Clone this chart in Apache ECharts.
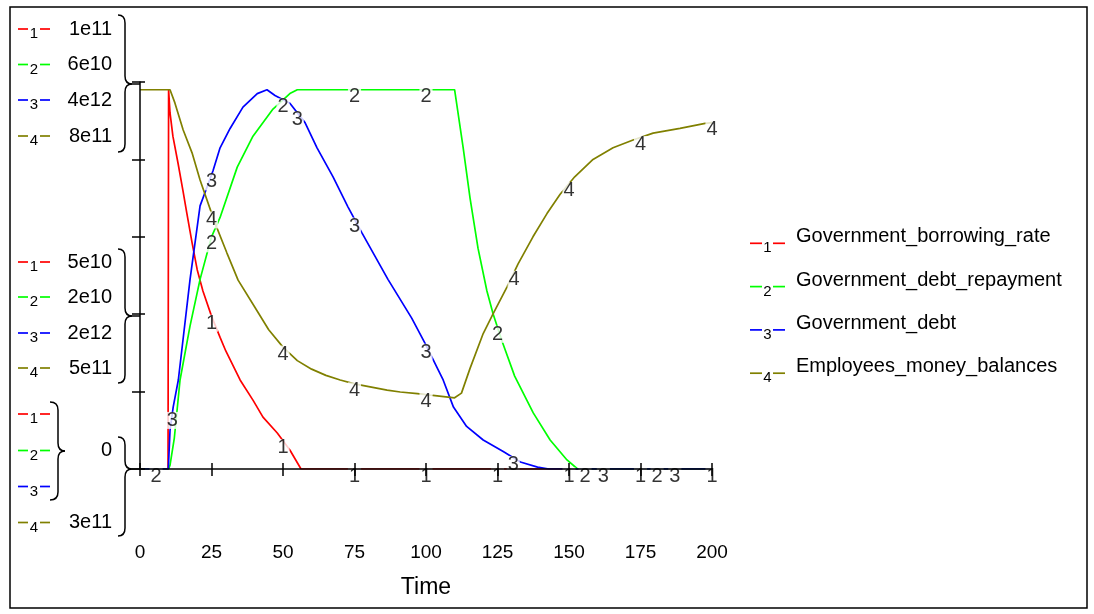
<!DOCTYPE html>
<html>
<head>
<meta charset="utf-8">
<script src="https://cdn.jsdelivr.net/npm/echarts@6/dist/echarts.min.js"></script>
<style>
  html, body { margin: 0; padding: 0; background: #fff; }
  #chart { width: 1094px; height: 614px; }
</style>
</head>
<body>
<div id="chart"></div>
<script>
// ---- series definitions ----
const seriesNames = [
  'Government_borrowing_rate',
  'Government_debt_repayment',
  'Government_debt',
  'Employees_money_balances'
];
const seriesColors = ['#ff0000', '#00ff00', '#0000ff', '#808000'];

// each variable has its own vertical scale
const scaleMin = [0, 0, 0, 3e11];
const scaleMax = [1e11, 6e10, 4e12, 8e11];
const scaleTopLabels = ['1e11', '6e10', '4e12', '8e11'];
const scaleMidLabels = ['5e10', '2e10', '2e12', '5e11'];
const scaleBottomLabels = ['0', '0', '0', '3e11'];

// [time, value]
const borrowingRate = [
  [0, 0], [9.8, 0], [10, 9.8e10], [10.5, 9.2e10], [11.5, 8.6e10], [13.3, 7.9e10],
  [15, 7.2e10], [16.4, 6.6e10], [18.2, 5.85e10], [20, 5.15e10], [22, 4.6e10],
  [25, 3.95e10], [28, 3.4e10], [30, 3.05e10], [35, 2.3e10], [39.5, 1.78e10],
  [43, 1.34e10], [48, 0.93e10], [52.4, 0.49e10], [56.3, 0], [200, 0]
];
const debtRepayment = [
  [0, 0], [10, 0], [10.5, 0.06e10], [12, 0.48e10], [14, 1.38e10], [17.5, 2.22e10],
  [21, 2.94e10], [25, 3.6e10], [28, 3.9e10], [34, 4.68e10], [39.5, 5.16e10],
  [46.5, 5.58e10], [52.4, 5.82e10], [55, 5.88e10], [110, 5.88e10], [113, 4.98e10],
  [115.4, 4.2e10], [118.2, 3.42e10], [121.3, 2.76e10], [123.5, 2.4e10],
  [126.6, 1.98e10], [131, 1.44e10], [137.5, 0.87e10], [143.4, 0.45e10],
  [149.3, 0.14e10], [153, 0], [200, 0]
];
const governmentDebt = [
  [0, 0], [9.9, 0], [10.5, 0.4e12], [11.6, 0.64e12], [13.4, 0.92e12], [17.5, 1.96e12],
  [21, 2.72e12], [25.5, 3.08e12], [28, 3.32e12], [31.5, 3.52e12], [36, 3.74e12],
  [41, 3.88e12], [44.4, 3.92e12], [47.2, 3.86e12], [52.4, 3.78e12], [57.7, 3.58e12],
  [61.9, 3.32e12], [67.5, 3.02e12], [72.7, 2.71e12], [77.6, 2.44e12], [86.7, 1.96e12],
  [95, 1.56e12], [100, 1.28e12], [104, 1.04e12], [106, 0.92e12], [109.6, 0.64e12],
  [114.2, 0.44e12], [120, 0.3e12], [127, 0.18e12], [133, 0.072e12], [139, 0.02e12],
  [143, 0], [200, 0]
];
const moneyBalances = [
  [0, 7.9e11], [10.5, 7.9e11], [12.2, 7.73e11], [15.1, 7.38e11], [18.2, 7.085e11],
  [21, 6.735e11], [26.2, 6.18e11], [30.4, 5.79e11], [34.3, 5.44e11], [40, 5.1e11],
  [45, 4.8e11], [50, 4.575e11], [55, 4.4e11], [60, 4.29e11], [65, 4.21e11],
  [70, 4.15e11], [75, 4.1e11], [80, 4.065e11], [86.4, 4.02e11], [91, 3.995e11],
  [97, 3.975e11], [102.4, 3.95e11], [110, 3.92e11], [112.4, 3.98e11], [115.4, 4.3e11],
  [120, 4.75e11], [123.4, 5.0e11], [128.3, 5.35e11], [132.2, 5.65e11], [137.4, 6.0e11],
  [142.3, 6.3e11], [146.9, 6.55e11], [152, 6.775e11], [158.4, 7.0e11], [165.4, 7.15e11],
  [172.4, 7.25e11], [179.4, 7.34e11], [188.8, 7.4e11], [197.6, 7.465e11], [200, 7.475e11]
];
const seriesData = [borrowingRate, debtRepayment, governmentDebt, moneyBalances];

// times at which each line carries its number tag
const tagTimes = [
  [25, 50, 75, 100, 125, 150, 175, 200],
  [5.6, 25, 50, 75, 100, 125, 155.6, 180.8],
  [11.3, 25, 55, 75, 100, 130.5, 162, 187],
  [25, 50, 75, 100, 130.8, 150, 175, 200]
];

const timeMin = 0, timeMax = 200, timeStep = 25;

// ---- layout ----
const FONT = '"Liberation Sans", Arial, sans-serif';
const GRID = { left: 140, right: 382, top: 82, bottom: 145 };

function valueAt(points, t) {
  for (let k = 1; k < points.length; k++) {
    const a = points[k - 1], b = points[k];
    if (t <= b[0]) {
      if (b[0] === a[0]) return b[1];
      return a[1] + (b[1] - a[1]) * (t - a[0]) / (b[0] - a[0]);
    }
  }
  return points[points.length - 1][1];
}

const chart = echarts.init(document.getElementById('chart'), null, { renderer: 'canvas' });

const yAxes = seriesData.map((_, i) => ({
  type: 'value', min: scaleMin[i], max: scaleMax[i], show: false, position: 'left'
}));
// visible vertical axis with crossing ticks
yAxes.push({
  type: 'value', min: 0, max: 5, interval: 1, position: 'left', offset: 0, z: 5,
  axisLine: { show: true, lineStyle: { color: '#000', width: 1.5 } },
  axisTick: { show: true, length: 8, lineStyle: { color: '#000', width: 1.5 } },
  axisLabel: { show: false }, splitLine: { show: false }
});
yAxes.push({
  type: 'value', min: 0, max: 5, interval: 1, position: 'left', offset: 0, z: 5,
  axisLine: { show: false },
  axisTick: { show: true, inside: true, length: 5, lineStyle: { color: '#000', width: 1.5 } },
  axisLabel: { show: false }, splitLine: { show: false }
});

const series = [];
seriesData.forEach((pts, i) => {
  series.push({
    type: 'line', name: seriesNames[i], xAxisIndex: 0, yAxisIndex: i,
    data: pts, symbol: 'none', showSymbol: false, z: 2,
    lineStyle: { color: seriesColors[i], width: 1.7 }
  });
});
seriesData.forEach((pts, i) => {
  series.push({
    type: 'scatter', xAxisIndex: 0, yAxisIndex: i, z: 3, silent: true,
    data: tagTimes[i].map(t => [t, valueAt(pts, t)]),
    symbol: 'rect', symbolSize: 1,
    itemStyle: { color: 'rgba(0,0,0,0)' },
    label: {
      show: true, position: 'inside', offset: [0, 7],
      formatter: String(i + 1), color: '#000', fontSize: 20, fontFamily: FONT,
      backgroundColor: '#fff', padding: [0, 1], lineHeight: 17
    }
  });
});

// ---- decorations: frame, scale keys, braces, legend ----
const graphics = [];
graphics.push({
  type: 'rect', shape: { x: 10, y: 7, width: 1077, height: 601 },
  style: { fill: 'none', stroke: '#000', lineWidth: 1.5 }, z: 0
});

function txt(text, x, y, size, align, color) {
  return {
    type: 'text', z: 10,
    style: {
      text: text, x: x, y: y, font: size + 'px ' + FONT, fill: color || '#000',
      align: align, verticalAlign: 'middle', textAlign: align, textVerticalAlign: 'middle'
    }
  };
}
function seg(x1, y1, x2, y2, color, w) {
  return {
    type: 'line', z: 10, shape: { x1: x1, y1: y1, x2: x2, y2: y2 },
    style: { stroke: color, lineWidth: w || 1.7 }
  };
}
function curve(x1, y1, cx, cy, x2, y2) {
  return {
    type: 'bezierCurve', z: 10,
    shape: { x1: x1, y1: y1, cpx1: cx, cpy1: cy, x2: x2, y2: y2 },
    style: { fill: 'none', stroke: '#000', lineWidth: 1.5 }
  };
}
// curly brace opening to the left, tip pointing right
function brace(xo, xm, yTop, yTip, yBot, xEnd) {
  const r = 8;
  const out = [
    curve(xo, yTop, xm, yTop, xm, yTop + r),
    seg(xm, yTop + r, xm, yTip - r, '#000', 1.5),
    curve(xm, yTip - r, xm, yTip, xm + 7, yTip),
    curve(xm + 7, yTip, xm, yTip, xm, yTip + r),
    seg(xm, yTip + r, xm, yBot - r, '#000', 1.5),
    curve(xm, yBot - r, xm, yBot, xo, yBot)
  ];
  if (xEnd) out.push(seg(xm + 7, yTip, xEnd, yTip, '#000', 1.5));
  return out;
}
function keyMark(i, xl, y, dashLen, gap, digitSize) {
  const out = [];
  out.push(seg(xl, y, xl + dashLen, y, seriesColors[i]));
  out.push(seg(xl + dashLen + gap, y, xl + 2 * dashLen + gap, y, seriesColors[i]));
  out.push(txt(String(i + 1), xl + dashLen + gap / 2, y + 5, digitSize, 'center'));
  return out;
}

const keyGroups = [
  { rows: [29, 64.5, 100, 136], labels: scaleTopLabels },
  { rows: [262, 297, 333, 368], labels: scaleMidLabels },
  { rows: [414, 450.5, 486.5, 522.5], labels: scaleBottomLabels }
];
keyGroups.forEach(g => {
  g.rows.forEach((y, i) => graphics.push(...keyMark(i, 18, y, 10, 12, 15)));
  // identical neighbouring labels are written once
  let start = 0;
  for (let k = 1; k <= g.labels.length; k++) {
    if (k === g.labels.length || g.labels[k] !== g.labels[start]) {
      const yy = (g.rows[start] + g.rows[k - 1]) / 2;
      graphics.push(txt(g.labels[start], 112, yy, 20, 'right'));
      start = k;
    }
  }
});

graphics.push(...brace(118, 125, 15, 84, 152, 140));
graphics.push(...brace(118, 125, 249, 316, 383, 140));
graphics.push(...brace(118, 125, 437, 469, 536, 140));
graphics.push(...brace(50, 58, 402, 451, 500, null));

seriesNames.forEach((name, i) => {
  const y = 243.3 + 43.3 * i;
  graphics.push(...keyMark(i, 750, y, 12, 11, 15));
  graphics.push(txt(name, 796, y - 6.5, 20, 'left'));
});

chart.setOption({
  animation: false,
  backgroundColor: '#fff',
  grid: { left: GRID.left, right: GRID.right, top: GRID.top, bottom: GRID.bottom, containLabel: false },
  xAxis: [
    {
      type: 'value', min: timeMin, max: timeMax, interval: timeStep, position: 'bottom', z: 5,
      name: 'Time', nameLocation: 'middle', nameGap: 107,
      nameTextStyle: { fontSize: 23, color: '#000', fontFamily: FONT },
      axisLine: { show: true, onZero: false, lineStyle: { color: '#000', width: 1.5 } },
      axisTick: { show: true, length: 7, lineStyle: { color: '#000', width: 1.5 } },
      axisLabel: { fontSize: 19, color: '#000', fontFamily: FONT, margin: 74 },
      splitLine: { show: false }
    },
    {
      type: 'value', min: timeMin, max: timeMax, interval: timeStep, position: 'bottom', offset: 0, z: 5,
      axisLine: { show: false },
      axisTick: { show: true, inside: true, length: 6, lineStyle: { color: '#000', width: 1.5 } },
      axisLabel: { show: false }, splitLine: { show: false }
    }
  ],
  yAxis: yAxes,
  series: series,
  graphic: graphics
});
</script>
</body>
</html>
